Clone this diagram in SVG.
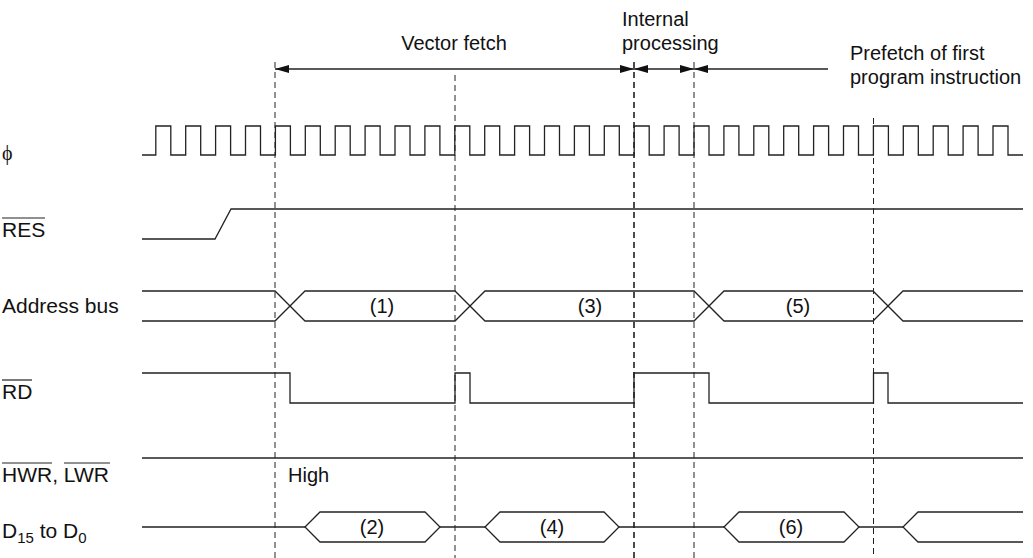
<svg xmlns="http://www.w3.org/2000/svg" width="1033" height="558" viewBox="0 0 1033 558">
<style>
.w{fill:none;stroke:#222;stroke-width:1.3}
.d{fill:none;stroke:#222;stroke-width:1;stroke-dasharray:6,4}
.db{fill:none;stroke:#111;stroke-width:1.5;stroke-dasharray:6,4}
.t{font-family:"Liberation Sans",Arial,sans-serif;font-size:20px;fill:#111}
.l{font-family:"Liberation Sans",Arial,sans-serif;font-size:21px;fill:#111}
.c{text-anchor:middle}
.ol{stroke:#222;stroke-width:1.2}
.ah{fill:#111}
</style>
<rect width="1033" height="558" fill="#fff"/>
<g id="guides">
<line class="d" x1="275" y1="62" x2="275" y2="558"/>
<line class="d" x1="455" y1="75" x2="455" y2="558"/>
<line class="db" x1="634" y1="62" x2="634" y2="558"/>
<line class="d" x1="694" y1="62" x2="694" y2="558"/>
<line class="d" x1="873.5" y1="118" x2="873.5" y2="558"/>
</g>
<g id="connectors">
<line class="w" x1="275" y1="69" x2="634" y2="69"/>
<line class="w" x1="634" y1="69" x2="694" y2="69"/>
<line class="w" x1="694" y1="69" x2="828" y2="69"/>
<path class="ah" d="M275,69 L289,65 L289,73 Z"/>
<path class="ah" d="M634,69 L620,65 L620,73 Z"/>
<path class="ah" d="M634,69 L648,65 L648,73 Z"/>
<path class="ah" d="M694,69 L680,65 L680,73 Z"/>
<path class="ah" d="M694,69 L708,65 L708,73 Z"/>
</g>
<g id="phase-labels">
<text class="t c" x="454" y="50">Vector fetch</text>
<text class="t" x="622" y="26">Internal</text>
<text class="t" x="622" y="50">processing</text>
<text class="t" x="850" y="60">Prefetch of first</text>
<text class="t" x="850" y="84">program instruction</text>
</g>
<g id="clock">
<text x="2" y="160" style="font-family:'Liberation Serif','Times New Roman',serif;font-size:20px;fill:#111">ϕ</text>
<path class="w" d="M142,155 H155.8 V126 H170.8 V155 H185.7 V126 H200.7 V155 H215.6 V126 H230.6 V155 H245.5 V126 H260.5 V155 H275.4 V126 H290.4 V155 H305.3 V126 H320.3 V155 H335.2 V126 H350.2 V155 H365.1 V126 H380.1 V155 H395 V126 H410 V155 H424.9 V126 H439.9 V155 H454.8 V126 H469.8 V155 H484.7 V126 H499.7 V155 H514.6 V126 H529.6 V155 H544.5 V126 H559.5 V155 H574.4 V126 H589.4 V155 H604.3 V126 H619.3 V155 H634.2 V126 H649.2 V155 H664.1 V126 H679.1 V155 H694 V126 H709 V155 H723.9 V126 H738.9 V155 H753.8 V126 H768.8 V155 H783.7 V126 H798.7 V155 H813.6 V126 H828.6 V155 H843.5 V126 H858.5 V155 H873.4 V126 H888.4 V155 H903.3 V126 H918.3 V155 H933.2 V126 H948.2 V155 H963.1 V126 H978.1 V155 H993 V126 H1008 V155 H1023"/>
</g>
<g id="res">
<text class="l" x="2" y="237">RES</text>
<line class="ol" x1="2" y1="218" x2="45" y2="218"/>
<path class="w" d="M142,239 H215 L231,209 H1023"/>
</g>
<g id="address-bus">
<text class="l" x="2" y="313">Address bus</text>
<path class="w" d="M142,291 H275 L305,321 H455 L485,291 H694 L724,321 H873 L903,291 H1023"/>
<path class="w" d="M142,321 H275 L305,291 H455 L485,321 H694 L724,291 H873 L903,321 H1023"/>
<text class="t c" x="382" y="313">(1)</text>
<text class="t c" x="590" y="313">(3)</text>
<text class="t c" x="798" y="313">(5)</text>
</g>
<g id="rd">
<text class="l" x="2" y="399">RD</text>
<line class="ol" x1="2" y1="380" x2="32" y2="380"/>
<path class="w" d="M142,373 H290 V403 H455 V373 H470 V403 H634 V373 H709 V403 H873.5 V373 H888 V403 H1023"/>
</g>
<g id="hwr-lwr">
<text class="l" x="2" y="482">HWR, LWR</text>
<line class="ol" x1="2" y1="463" x2="52" y2="463"/>
<line class="ol" x1="64" y1="463" x2="110" y2="463"/>
<line class="w" x1="142" y1="458" x2="1023" y2="458"/>
<text class="t" x="288" y="482">High</text>
</g>
<g id="data-bus">
<text class="l" x="2" y="538">D<tspan font-size="15" dy="5">15</tspan><tspan dy="-5"> to D</tspan><tspan font-size="15" dy="5">0</tspan></text>
<path class="w" d="M142,527 H305 M440,527 H485 M619,527 H724 M859,527 H903"/>
<path class="w" d="M305,527 L320,512 H425 L440,527 L425,542 H320 Z"/>
<path class="w" d="M485,527 L500,512 H604 L619,527 L604,542 H500 Z"/>
<path class="w" d="M724,527 L739,512 H844 L859,527 L844,542 H739 Z"/>
<path class="w" d="M1023,512 H918 L903,527 L918,542 H1023"/>
<text class="t c" x="372" y="534">(2)</text>
<text class="t c" x="552" y="534">(4)</text>
<text class="t c" x="791" y="534">(6)</text>
</g>
</svg>
